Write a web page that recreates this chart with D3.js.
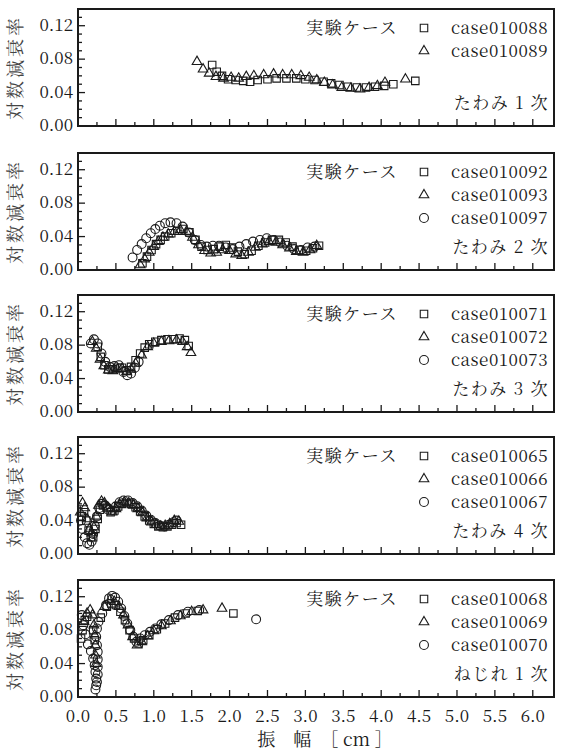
<!DOCTYPE html>
<html>
<head>
<meta charset="utf-8">
<script src="https://cdn.jsdelivr.net/npm/d3@7"></script>
<style>
body { margin: 0; background: #fff; }
text { fill: #1a1a1a; }
</style>
</head>
<body>
<svg id="chart" width="563" height="750"></svg>
<script>
// tick values
var xTicks = [0.0, 0.5, 1.0, 1.5, 2.0, 2.5, 3.0, 3.5, 4.0, 4.5, 5.0, 5.5, 6.0];
var yTicks = [0.00, 0.04, 0.08, 0.12];
var modeLabels = ["たわみ 1 次", "たわみ 2 次", "たわみ 3 次", "たわみ 4 次", "ねじれ 1 次"];
var legendTitle = "実験ケース";
var caseNames = [
    ["case010088", "case010089"],
    ["case010092", "case010093", "case010097"],
    ["case010071", "case010072", "case010073"],
    ["case010065", "case010066", "case010067"],
    ["case010068", "case010069", "case010070"]
];

// たわみ1次
var p1Square = [[1.77,0.073],[1.83,0.065],[1.90,0.060],[1.98,0.056],[2.08,0.055],[2.18,0.054],[2.27,0.053],[2.37,0.055],[2.50,0.056],[2.62,0.057],[2.75,0.057],[2.88,0.057],[3.00,0.056],[3.12,0.055],[3.24,0.053],[3.34,0.051],[3.45,0.049],[3.56,0.047],[3.68,0.046],[3.80,0.046],[3.92,0.047],[4.04,0.048],[4.16,0.050],[4.45,0.054]];
var p1Triangle = [[1.57,0.077],[1.65,0.068],[1.73,0.063],[1.82,0.059],[1.92,0.057],[2.02,0.058],[2.12,0.057],[2.22,0.059],[2.32,0.060],[2.45,0.061],[2.58,0.062],[2.70,0.061],[2.82,0.061],[2.94,0.060],[3.05,0.058],[3.15,0.055],[3.25,0.052],[3.36,0.049],[3.48,0.046],[3.60,0.045],[3.72,0.044],[3.84,0.046],[3.95,0.048],[4.05,0.052],[4.32,0.056]];

// たわみ2次
var p2Square = [[0.85,0.008],[0.91,0.016],[0.97,0.024],[1.03,0.031],[1.09,0.036],[1.15,0.040],[1.23,0.044],[1.31,0.047],[1.39,0.049],[1.47,0.045],[1.55,0.036],[1.63,0.028],[1.71,0.024],[1.79,0.025],[1.87,0.028],[1.95,0.030],[2.03,0.027],[2.11,0.022],[2.20,0.019],[2.29,0.023],[2.38,0.029],[2.47,0.033],[2.56,0.036],[2.65,0.036],[2.74,0.033],[2.83,0.028],[2.92,0.024],[3.01,0.023],[3.10,0.026],[3.18,0.029]];
var p2Triangle = [[0.82,0.006],[0.88,0.013],[0.94,0.021],[1.00,0.028],[1.06,0.034],[1.12,0.039],[1.19,0.043],[1.27,0.046],[1.35,0.048],[1.43,0.046],[1.51,0.039],[1.59,0.030],[1.67,0.023],[1.75,0.020],[1.83,0.021],[1.91,0.024],[2.00,0.023],[2.08,0.019],[2.16,0.017],[2.25,0.021],[2.34,0.027],[2.43,0.031],[2.52,0.034],[2.61,0.033],[2.70,0.030],[2.79,0.026],[2.88,0.022],[2.97,0.021],[3.06,0.024],[3.15,0.029]];
var p2Circle = [[0.72,0.015],[0.78,0.024],[0.84,0.031],[0.90,0.038],[0.96,0.044],[1.02,0.049],[1.08,0.053],[1.15,0.056],[1.22,0.057],[1.30,0.056],[1.38,0.052],[1.46,0.045],[1.54,0.036],[1.62,0.030],[1.70,0.028],[1.78,0.029],[1.86,0.029],[1.95,0.027],[2.04,0.025],[2.13,0.028],[2.22,0.031],[2.31,0.034],[2.40,0.036],[2.49,0.038],[2.58,0.036],[2.67,0.033],[2.76,0.029],[2.85,0.025],[2.94,0.024],[3.03,0.027],[3.12,0.028]];

// たわみ3次
var p3Square = [[0.26,0.078],[0.30,0.066],[0.35,0.056],[0.40,0.051],[0.46,0.051],[0.52,0.053],[0.58,0.053],[0.64,0.050],[0.70,0.054],[0.76,0.062],[0.82,0.070],[0.88,0.077],[0.94,0.081],[1.02,0.084],[1.10,0.086],[1.18,0.087],[1.26,0.087],[1.34,0.088],[1.41,0.086],[1.46,0.079]];
var p3Triangle = [[0.19,0.084],[0.24,0.076],[0.29,0.063],[0.34,0.055],[0.40,0.050],[0.46,0.049],[0.52,0.051],[0.58,0.052],[0.64,0.048],[0.70,0.051],[0.76,0.058],[0.84,0.068],[0.92,0.078],[1.00,0.082],[1.10,0.084],[1.20,0.085],[1.30,0.086],[1.38,0.084],[1.44,0.078],[1.49,0.071]];
var p3Circle = [[0.17,0.082],[0.21,0.087],[0.26,0.082],[0.31,0.070],[0.36,0.060],[0.42,0.054],[0.48,0.055],[0.54,0.056],[0.60,0.048],[0.65,0.044],[0.70,0.046],[0.75,0.053],[0.80,0.060]];

// たわみ4次
var p4Square = [[0.05,0.045],[0.08,0.050],[0.11,0.040],[0.14,0.028],[0.17,0.020],[0.20,0.020],[0.23,0.030],[0.26,0.042],[0.29,0.053],[0.33,0.058],[0.38,0.055],[0.43,0.050],[0.48,0.052],[0.53,0.057],[0.58,0.060],[0.64,0.061],[0.70,0.060],[0.76,0.056],[0.82,0.051],[0.88,0.045],[0.94,0.040],[1.00,0.036],[1.06,0.033],[1.12,0.032],[1.18,0.033],[1.24,0.035],[1.30,0.037],[1.36,0.035]];
var p4Triangle = [[0.03,0.050],[0.06,0.061],[0.09,0.055],[0.12,0.042],[0.15,0.030],[0.18,0.025],[0.21,0.032],[0.24,0.045],[0.27,0.058],[0.31,0.063],[0.35,0.061],[0.40,0.055],[0.45,0.050],[0.50,0.054],[0.55,0.059],[0.61,0.062],[0.67,0.061],[0.73,0.058],[0.79,0.054],[0.85,0.049],[0.91,0.043],[0.97,0.038],[1.03,0.035],[1.09,0.033],[1.15,0.034],[1.21,0.036],[1.27,0.040],[1.33,0.039]];
var p4Circle = [[0.04,0.040],[0.06,0.030],[0.09,0.020],[0.12,0.013],[0.15,0.011],[0.18,0.015],[0.20,0.024],[0.22,0.034],[0.25,0.045],[0.28,0.055],[0.32,0.060],[0.36,0.058],[0.40,0.053],[0.45,0.052],[0.50,0.057],[0.55,0.062],[0.60,0.064],[0.66,0.064],[0.72,0.061],[0.78,0.057],[0.84,0.052],[0.90,0.046],[0.96,0.041],[1.02,0.037],[1.08,0.034],[1.14,0.033],[1.20,0.035],[1.26,0.038],[1.30,0.040]];

// ねじれ1次
var p5Square = [[0.04,0.070],[0.06,0.080],[0.09,0.092],[0.12,0.096],[0.20,0.080],[0.22,0.068],[0.30,0.095],[0.38,0.108],[0.44,0.112],[0.50,0.110],[0.56,0.102],[0.62,0.092],[0.68,0.080],[0.74,0.070],[0.80,0.064],[0.86,0.068],[0.94,0.074],[1.04,0.081],[1.15,0.088],[1.28,0.095],[1.42,0.100],[1.58,0.103],[2.05,0.100]];
var p5Triangle = [[0.08,0.090],[0.12,0.100],[0.16,0.104],[0.19,0.098],[0.21,0.086],[0.22,0.074],[0.23,0.062],[0.23,0.050],[0.24,0.040],[0.35,0.108],[0.42,0.116],[0.48,0.114],[0.54,0.108],[0.60,0.098],[0.66,0.086],[0.72,0.072],[0.78,0.062],[0.84,0.066],[0.92,0.073],[1.00,0.079],[1.10,0.085],[1.22,0.091],[1.35,0.097],[1.50,0.102],[1.65,0.104],[1.90,0.106]];
var p5Circle = [[0.05,0.098],[0.07,0.086],[0.10,0.075],[0.13,0.063],[0.17,0.055],[0.20,0.046],[0.22,0.038],[0.23,0.030],[0.24,0.022],[0.24,0.014],[0.23,0.009],[0.25,0.018],[0.26,0.027],[0.26,0.036],[0.26,0.045],[0.26,0.054],[0.25,0.062],[0.24,0.072],[0.25,0.082],[0.27,0.090],[0.32,0.100],[0.37,0.110],[0.41,0.118],[0.45,0.121],[0.49,0.119],[0.53,0.114],[0.57,0.106],[0.61,0.097],[0.65,0.088],[0.69,0.080],[0.73,0.072],[0.77,0.066],[0.82,0.070],[0.88,0.074],[0.95,0.078],[1.02,0.082],[1.10,0.087],[1.20,0.092],[1.32,0.098],[1.45,0.102],[1.60,0.104],[2.35,0.093]];

var panelSeries = [
    [p1Square, p1Triangle],
    [p2Square, p2Triangle, p2Circle],
    [p3Square, p3Triangle, p3Circle],
    [p4Square, p4Triangle, p4Circle],
    [p5Square, p5Triangle, p5Circle]
];

var svg = d3.select("#chart");
var left = 78, right = 554;
var panelTops = [9, 153, 295, 437, 580];
var panelH = 117;
var serif = "Noto Serif CJK JP, Liberation Serif, serif";
var ink = "#1a1a1a";

var x = d3.scaleLinear().domain([0, 6.28]).range([left, right]);
var symbols = [d3.symbolSquare, d3.symbolTriangle, d3.symbolCircle];
var symbolSizes = [56, 40, 62];

function label(sel, size, spacing) {
    return sel.attr("font-family", serif).attr("font-size", size)
        .style("letter-spacing", (spacing || 0) + "px");
}

panelSeries.forEach(function (series, i) {
    var top = panelTops[i];
    var y = d3.scaleLinear().domain([0, 0.14]).range([top + panelH, top]);
    var g = svg.append("g");

    // ticks point inward, major ones longer
    d3.range(1, 14).forEach(function (n) {
        var v = n / 100;
        g.append("line")
            .attr("x1", left).attr("x2", left + (n % 4 === 0 ? 7 : 4))
            .attr("y1", y(v)).attr("y2", y(v))
            .attr("stroke", ink).attr("stroke-width", 1.3);
    });
    d3.range(1, 25).forEach(function (n) {
        var v = n / 4;
        g.append("line")
            .attr("x1", x(v)).attr("x2", x(v))
            .attr("y1", y(0)).attr("y2", y(0) - (n % 2 === 0 ? 7 : 4))
            .attr("stroke", ink).attr("stroke-width", 1.3);
    });

    g.append("rect")
        .attr("x", left).attr("y", top)
        .attr("width", right - left).attr("height", panelH)
        .attr("fill", "none").attr("stroke", ink).attr("stroke-width", 2);

    label(g.selectAll(".ylab").data(yTicks).enter().append("text"), 17, 0)
        .attr("x", left - 5).attr("y", function (d) { return y(d) + 5; })
        .attr("text-anchor", "end")
        .text(d3.format(".2f"));

    label(g.append("text"), 18, 3)
        .attr("transform", "translate(22," + (top + panelH / 2) + ") rotate(-90)")
        .attr("text-anchor", "middle")
        .style("fill", "#444")
        .text("対数減衰率");

    // data
    series.forEach(function (pts, k) {
        g.selectAll(".m" + k).data(pts).enter().append("path")
            .attr("d", d3.symbol().type(symbols[k]).size(symbolSizes[k]))
            .attr("transform", function (d) { return "translate(" + x(d[0]) + "," + y(d[1]) + ")"; })
            .attr("fill", "none").attr("stroke", ink).attr("stroke-width", 1.1);
    });

    // legend
    label(g.append("text"), 17, 1.5)
        .attr("x", 398).attr("y", top + 25)
        .attr("text-anchor", "end")
        .text(legendTitle);
    caseNames[i].forEach(function (name, k) {
        var ly = top + 19 + k * 23;
        g.append("path")
            .attr("d", d3.symbol().type(symbols[k]).size(symbolSizes[k]))
            .attr("transform", "translate(424," + ly + ")")
            .attr("fill", "none").attr("stroke", ink).attr("stroke-width", 1.1);
        label(g.append("text"), 17, 0.5)
            .attr("x", 548).attr("y", ly + 6)
            .attr("text-anchor", "end")
            .text(name);
    });
    label(g.append("text"), 17, 1.5)
        .attr("x", 549).attr("y", top + panelH - 17)
        .attr("text-anchor", "end")
        .attr("xml:space", "preserve")
        .text(modeLabels[i]);

    if (i === panelSeries.length - 1) {
        label(g.selectAll(".xlab").data(xTicks).enter().append("text"), 17, 0)
            .attr("x", function (d) { return x(d); })
            .attr("y", y(0) + 25)
            .attr("text-anchor", "middle")
            .text(d3.format(".1f"));
    }
});

label(svg.append("text"), 18, 0)
    .attr("x", 325).attr("y", 746)
    .attr("text-anchor", "middle")
    .attr("xml:space", "preserve")
    .text("振　幅　［ cm ］");
</script>
</body>
</html>
